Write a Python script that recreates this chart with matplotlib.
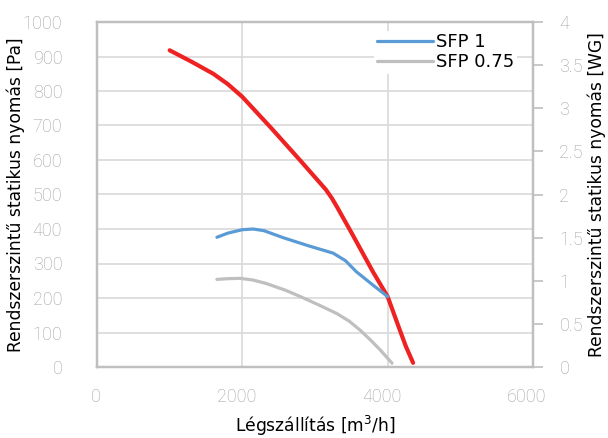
import matplotlib
matplotlib.use("Agg")
import matplotlib.pyplot as plt
import matplotlib.transforms as mtransforms

# adatok
red_x = [1000, 1300, 1600, 1800, 2000, 2400, 2800, 3000, 3150, 3230, 3300, 3500, 3800, 4000, 4150, 4250, 4350]
red_y = [918, 885, 850, 820, 783, 692, 598, 550, 514, 490, 465, 390, 275, 204, 117, 60, 12]

sfp1_x = [1650, 1800, 2000, 2150, 2300, 2560, 2900, 3250, 3420, 3570, 3800, 4000]
sfp1_y = [376, 388, 398, 400, 395, 375, 352, 330, 308, 276, 237, 204]

sfp075_x = [1650, 1800, 1970, 2150, 2330, 2600, 2800, 3050, 3300, 3470, 3620, 3760, 3900, 4060]
sfp075_y = [254, 256, 257, 252, 242, 222, 204, 180, 155, 133, 107, 79, 49, 11]

x_ticks = [0, 2000, 4000, 6000]
y_ticks = [0, 100, 200, 300, 400, 500, 600, 700, 800, 900, 1000]
wg_ticks = [0, 0.5, 1, 1.5, 2, 2.5, 3, 3.5, 4]
wg_labels = ["0", "0.5", "1", "1.5", "2", "2.5", "3", "3.5", "4"]

red = "#EE2222"
blue = "#5B9BD5"
grey = "#BFBFBF"
grid_c = "#D9D9D9"
spine_c = "#BFBFBF"
tick_c = "#A0A0A0"

tick_font = dict(family="Roboto", weight="light", size=13, color=tick_c)
label_font = dict(family="DejaVu Sans", size=12.3)

fig = plt.figure(figsize=(6.08, 4.38), dpi=100)
ax = fig.add_axes([97 / 608, 1 - 367 / 438, 436 / 608, 345 / 438])

ax.plot(red_x, red_y, color=red, lw=3.0, solid_capstyle="round", zorder=3)
ax.plot(sfp1_x, sfp1_y, color=blue, lw=2.3, solid_capstyle="round", label="SFP 1", zorder=4)
ax.plot(sfp075_x, sfp075_y, color=grey, lw=2.3, solid_capstyle="round", label="SFP 0.75", zorder=4)

ax.set_xlim(0, 6000)
ax.set_ylim(0, 1000)
ax.set_xticks(x_ticks)
ax.set_yticks(y_ticks)
ax.set_xticklabels([str(t) for t in x_ticks], fontdict=tick_font)
ax.set_yticklabels([str(t) for t in y_ticks], fontdict=tick_font)
ax.tick_params(axis="both", length=0)
ax.tick_params(axis="y", pad=25)
ax.tick_params(axis="x", pad=15)
# x feliratok kicsit balra tolva, mint az eredetin
for lbl in ax.get_xticklabels():
    dx = -1 if lbl.get_text() == "0" else -6
    lbl.set_transform(lbl.get_transform() + mtransforms.ScaledTranslation(dx / 100, 0, fig.dpi_scale_trans))

ax.grid(True, color=grid_c, lw=1.2, zorder=0)
ax.set_axisbelow(True)
for s in ax.spines.values():
    s.set_color(spine_c)
    s.set_linewidth(1.6)

ax.set_xlabel("Légszállítás [m$^3$/h]", fontdict=label_font)
ax.set_ylabel("Rendszerszintű statikus nyomás [Pa]", fontdict=label_font)
ax.xaxis.set_label_coords(0.5, -0.136)
ax.yaxis.set_label_coords(-0.165, 0.5)

ax2 = ax.twinx()
ax2.set_ylim(0, 4)
ax2.set_yticks(wg_ticks)
ax2.set_yticklabels(wg_labels, fontdict=tick_font)
ax2.tick_params(axis="y", length=7, width=1.2, color=spine_c, pad=12)
for s in ax2.spines.values():
    s.set_color(spine_c)
    s.set_linewidth(1.6)
ax2.set_ylabel("Rendszerszintű statikus nyomás [WG]", fontdict=label_font)
ax2.yaxis.set_label_coords(1.126, 0.5)

leg = ax.legend(loc="upper left", bbox_to_anchor=(0.635, 0.975), frameon=True,
                prop=dict(family="DejaVu Sans", size=13),
                handlelength=3.1, handletextpad=0.2, labelspacing=0.1,
                borderpad=0.15, borderaxespad=0)
leg.get_frame().set_edgecolor("none")
leg.get_frame().set_facecolor("white")
leg.get_frame().set_alpha(1)
leg.set_zorder(10)

fig.savefig("out.png", dpi=100)
